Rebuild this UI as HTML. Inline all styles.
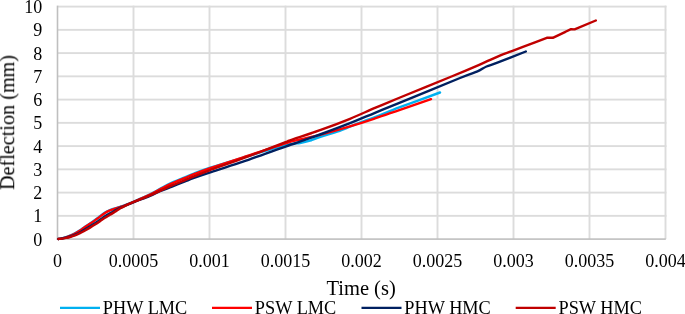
<!DOCTYPE html>
<html><head><meta charset="utf-8"><style>
html,body{margin:0;padding:0;background:#fff;}
body{width:685px;height:314px;overflow:hidden;}
svg{display:block;}
.t{-webkit-font-smoothing:antialiased;}
svg text{will-change:transform;}
.t{font-family:"Liberation Serif",serif;font-size:18px;fill:#000;}
</style></head><body>
<svg width="685" height="314" viewBox="0 0 685 314">
<rect width="685" height="314" fill="#fff"/>
<rect x="57.50" y="214.90" width="608.95" height="1.9" fill="#DCDCDC"/>
<rect x="57.50" y="191.65" width="608.95" height="1.9" fill="#DCDCDC"/>
<rect x="57.50" y="168.40" width="608.95" height="1.9" fill="#DCDCDC"/>
<rect x="57.50" y="145.15" width="608.95" height="1.9" fill="#DCDCDC"/>
<rect x="57.50" y="121.90" width="608.95" height="1.9" fill="#DCDCDC"/>
<rect x="57.50" y="98.65" width="608.95" height="1.9" fill="#DCDCDC"/>
<rect x="57.50" y="75.40" width="608.95" height="1.9" fill="#DCDCDC"/>
<rect x="57.50" y="52.15" width="608.95" height="1.9" fill="#DCDCDC"/>
<rect x="57.50" y="28.90" width="608.95" height="1.9" fill="#DCDCDC"/>
<rect x="57.50" y="5.65" width="608.95" height="1.9" fill="#DCDCDC"/>
<rect x="132.55" y="5.65" width="1.9" height="233.45" fill="#DCDCDC"/>
<rect x="208.55" y="5.65" width="1.9" height="233.45" fill="#DCDCDC"/>
<rect x="284.55" y="5.65" width="1.9" height="233.45" fill="#DCDCDC"/>
<rect x="360.55" y="5.65" width="1.9" height="233.45" fill="#DCDCDC"/>
<rect x="436.55" y="5.65" width="1.9" height="233.45" fill="#DCDCDC"/>
<rect x="512.55" y="5.65" width="1.9" height="233.45" fill="#DCDCDC"/>
<rect x="588.55" y="5.65" width="1.9" height="233.45" fill="#DCDCDC"/>
<rect x="664.55" y="5.65" width="1.9" height="233.45" fill="#DCDCDC"/>
<rect x="56.70" y="5.65" width="1.6" height="234.25" fill="#BFBFBF"/>
<rect x="56.70" y="238.30" width="609.10" height="1.6" fill="#BFBFBF"/>
<text x="42.2" y="245.60" text-anchor="end" class="t">0</text>
<text x="42.2" y="222.35" text-anchor="end" class="t">1</text>
<text x="42.2" y="199.10" text-anchor="end" class="t">2</text>
<text x="42.2" y="175.85" text-anchor="end" class="t">3</text>
<text x="42.2" y="152.60" text-anchor="end" class="t">4</text>
<text x="42.2" y="129.35" text-anchor="end" class="t">5</text>
<text x="42.2" y="106.10" text-anchor="end" class="t">6</text>
<text x="42.2" y="82.85" text-anchor="end" class="t">7</text>
<text x="42.2" y="59.60" text-anchor="end" class="t">8</text>
<text x="42.2" y="36.35" text-anchor="end" class="t">9</text>
<text x="42.2" y="13.10" text-anchor="end" class="t">10</text>
<text x="57.50" y="266.5" text-anchor="middle" class="t">0</text>
<text x="133.50" y="266.5" text-anchor="middle" class="t">0.0005</text>
<text x="209.50" y="266.5" text-anchor="middle" class="t">0.001</text>
<text x="285.50" y="266.5" text-anchor="middle" class="t">0.0015</text>
<text x="361.50" y="266.5" text-anchor="middle" class="t">0.002</text>
<text x="437.50" y="266.5" text-anchor="middle" class="t">0.0025</text>
<text x="513.50" y="266.5" text-anchor="middle" class="t">0.003</text>
<text x="589.50" y="266.5" text-anchor="middle" class="t">0.0035</text>
<text x="665.50" y="266.5" text-anchor="middle" class="t">0.004</text>
<text x="361.1" y="294.7" text-anchor="middle" class="t" style="font-size:20.5px">Time (s)</text>
<text transform="translate(14.2,122.5) rotate(-90)" text-anchor="middle" class="t" style="font-size:20.2px">Deflection (mm)</text>
<path d="M58.40,238.95 C59.00,238.84 60.73,238.59 62.00,238.30 C63.27,238.01 64.67,237.63 66.00,237.20 C67.33,236.77 68.50,236.37 70.00,235.70 C71.50,235.03 73.33,234.12 75.00,233.20 C76.67,232.28 78.33,231.28 80.00,230.20 C81.67,229.12 83.33,227.83 85.00,226.70 C86.67,225.57 88.33,224.52 90.00,223.40 C91.67,222.28 93.33,221.18 95.00,220.00 C96.67,218.82 98.33,217.53 100.00,216.30 C101.67,215.07 103.33,213.65 105.00,212.60 C106.67,211.55 108.33,210.72 110.00,210.00 C111.67,209.28 113.33,208.83 115.00,208.30 C116.67,207.77 118.33,207.33 120.00,206.80 C121.67,206.27 122.50,206.07 125.00,205.10 C127.50,204.13 130.83,202.80 135.00,201.00 C139.17,199.20 145.83,196.32 150.00,194.30 C154.17,192.28 156.33,190.85 160.00,188.90 C163.67,186.95 167.83,184.53 172.00,182.60 C176.17,180.67 181.33,178.80 185.00,177.30 C188.67,175.80 189.92,175.15 194.00,173.60 C198.08,172.05 201.83,170.50 209.50,168.00 C217.17,165.50 227.33,162.40 240.00,158.60 C252.67,154.80 275.50,147.80 285.50,145.20 C295.50,142.60 295.92,143.77 300.00,143.00 C304.08,142.23 306.08,141.78 310.00,140.60 C313.92,139.42 319.33,137.27 323.50,135.90 C327.67,134.53 331.25,133.67 335.00,132.40 C338.75,131.13 341.83,129.93 346.00,128.30 C350.17,126.67 355.17,124.48 360.00,122.60 C364.83,120.72 368.33,119.57 375.00,117.00 C381.67,114.43 389.17,111.28 400.00,107.20 C410.83,103.12 433.33,94.95 440.00,92.50" fill="none" stroke="#00B0F0" stroke-width="2.4" stroke-linejoin="round" stroke-linecap="round"/>
<path d="M58.40,238.95 C59.00,238.86 60.73,238.66 62.00,238.40 C63.27,238.14 64.67,237.82 66.00,237.40 C67.33,236.98 68.50,236.55 70.00,235.90 C71.50,235.25 73.33,234.38 75.00,233.50 C76.67,232.62 78.33,231.68 80.00,230.60 C81.67,229.52 83.33,228.13 85.00,227.00 C86.67,225.87 88.33,224.90 90.00,223.80 C91.67,222.70 93.33,221.60 95.00,220.40 C96.67,219.20 98.33,217.85 100.00,216.60 C101.67,215.35 103.33,213.93 105.00,212.90 C106.67,211.87 108.33,211.10 110.00,210.40 C111.67,209.70 113.33,209.25 115.00,208.70 C116.67,208.15 118.33,207.65 120.00,207.10 C121.67,206.55 122.50,206.37 125.00,205.40 C127.50,204.43 130.83,203.10 135.00,201.30 C139.17,199.50 145.83,196.60 150.00,194.60 C154.17,192.60 156.33,191.17 160.00,189.30 C163.67,187.43 167.83,185.30 172.00,183.40 C176.17,181.50 181.33,179.43 185.00,177.90 C188.67,176.37 189.92,175.77 194.00,174.20 C198.08,172.63 201.83,171.13 209.50,168.50 C217.17,165.87 227.33,162.60 240.00,158.40 C252.67,154.20 275.50,146.45 285.50,143.30 C295.50,140.15 294.25,140.92 300.00,139.50 C305.75,138.08 311.67,136.98 320.00,134.80 C328.33,132.62 340.83,129.13 350.00,126.40 C359.17,123.67 366.67,121.17 375.00,118.40 C383.33,115.63 390.67,113.00 400.00,109.80 C409.33,106.60 425.83,100.97 431.00,99.20" fill="none" stroke="#FF0000" stroke-width="2.4" stroke-linejoin="round" stroke-linecap="round"/>
<path d="M58.40,238.95 C59.00,238.88 60.73,238.72 62.00,238.50 C63.27,238.28 64.67,237.93 66.00,237.60 C67.33,237.27 68.50,237.00 70.00,236.50 C71.50,236.00 73.33,235.32 75.00,234.60 C76.67,233.88 78.33,233.10 80.00,232.20 C81.67,231.30 83.33,230.20 85.00,229.20 C86.67,228.20 88.33,227.20 90.00,226.20 C91.67,225.20 93.33,224.27 95.00,223.20 C96.67,222.13 98.33,220.95 100.00,219.80 C101.67,218.65 103.33,217.38 105.00,216.30 C106.67,215.22 108.33,214.27 110.00,213.30 C111.67,212.33 113.33,211.40 115.00,210.50 C116.67,209.60 118.33,208.68 120.00,207.90 C121.67,207.12 122.50,206.83 125.00,205.80 C127.50,204.77 130.83,203.37 135.00,201.70 C139.17,200.03 145.83,197.55 150.00,195.80 C154.17,194.05 156.33,192.73 160.00,191.20 C163.67,189.67 167.83,188.23 172.00,186.60 C176.17,184.97 181.33,182.85 185.00,181.40 C188.67,179.95 189.92,179.37 194.00,177.90 C198.08,176.43 201.83,175.13 209.50,172.60 C217.17,170.07 227.33,167.03 240.00,162.70 C252.67,158.37 276.17,149.88 285.50,146.60 C294.83,143.32 290.25,145.02 296.00,143.00 C301.75,140.98 311.00,137.80 320.00,134.50 C329.00,131.20 340.83,126.82 350.00,123.20 C359.17,119.58 366.67,116.23 375.00,112.80 C383.33,109.37 385.83,108.40 400.00,102.60 C414.17,96.80 447.08,83.20 460.00,78.00 C472.92,72.80 473.08,73.32 477.50,71.40 C481.92,69.48 483.18,67.95 486.50,66.50 C489.82,65.05 490.85,65.20 497.40,62.70 C503.95,60.20 521.07,53.37 525.80,51.50" fill="none" stroke="#002060" stroke-width="2.4" stroke-linejoin="round" stroke-linecap="round"/>
<path d="M58.40,238.95 C59.00,238.89 60.73,238.77 62.00,238.60 C63.27,238.43 64.67,238.17 66.00,237.90 C67.33,237.63 68.50,237.42 70.00,237.00 C71.50,236.58 73.33,236.03 75.00,235.40 C76.67,234.77 78.33,234.02 80.00,233.20 C81.67,232.38 83.33,231.43 85.00,230.50 C86.67,229.57 88.33,228.60 90.00,227.60 C91.67,226.60 93.33,225.57 95.00,224.50 C96.67,223.43 98.33,222.32 100.00,221.20 C101.67,220.08 103.33,218.87 105.00,217.80 C106.67,216.73 108.33,215.80 110.00,214.80 C111.67,213.80 113.33,212.85 115.00,211.80 C116.67,210.75 118.33,209.50 120.00,208.50 C121.67,207.50 122.50,206.98 125.00,205.80 C127.50,204.62 130.83,203.15 135.00,201.40 C139.17,199.65 145.83,197.07 150.00,195.30 C154.17,193.53 156.33,192.45 160.00,190.80 C163.67,189.15 167.83,187.18 172.00,185.40 C176.17,183.62 181.33,181.60 185.00,180.10 C188.67,178.60 189.92,178.03 194.00,176.40 C198.08,174.77 201.83,173.13 209.50,170.30 C217.17,167.47 227.33,164.08 240.00,159.40 C252.67,154.72 277.17,145.38 285.50,142.20 C293.83,139.02 284.25,142.30 290.00,140.30 C295.75,138.30 310.00,133.78 320.00,130.20 C330.00,126.62 340.83,122.52 350.00,118.80 C359.17,115.08 366.67,111.45 375.00,107.90 C383.33,104.35 387.25,102.73 400.00,97.50 C412.75,92.27 438.30,81.95 451.50,76.50 C464.70,71.05 470.95,68.37 479.20,64.80 C487.45,61.23 495.55,57.38 501.00,55.10 C506.45,52.82 506.23,53.22 511.90,51.10 C517.57,48.98 529.18,44.62 535.00,42.40 L546.80,37.80 L552.80,37.80 L571.00,29.20 L574.60,29.40 L595.80,20.50" fill="none" stroke="#C00000" stroke-width="2.4" stroke-linejoin="round" stroke-linecap="round"/>
<line x1="60" y1="307.9" x2="100" y2="307.9" stroke="#00B0F0" stroke-width="2.4"/>
<text x="102.8" y="314.2" class="t" style="font-size:18.3px">PHW LMC</text>
<line x1="212" y1="307.9" x2="252" y2="307.9" stroke="#FF0000" stroke-width="2.4"/>
<text x="254.8" y="314.2" class="t" style="font-size:18.3px">PSW LMC</text>
<line x1="361.5" y1="307.9" x2="401.5" y2="307.9" stroke="#002060" stroke-width="2.4"/>
<text x="404.3" y="314.2" class="t" style="font-size:18.3px">PHW HMC</text>
<line x1="515.7" y1="307.9" x2="555.7" y2="307.9" stroke="#C00000" stroke-width="2.4"/>
<text x="558.5" y="314.2" class="t" style="font-size:18.3px">PSW HMC</text>
</svg>
</body></html>
